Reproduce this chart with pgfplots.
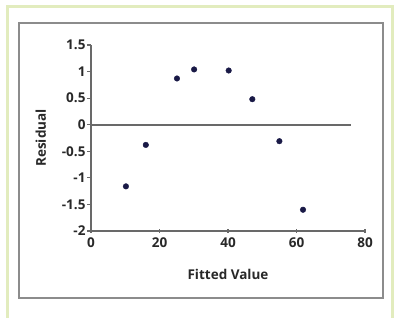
\documentclass[border=0pt]{standalone}
\usepackage{fontspec}
\setmainfont{Open Sans}
\usepackage{pgfplots}
\pgfplotsset{compat=1.18}
\definecolor{greenb}{RGB}{226,236,190}
\definecolor{frameg}{RGB}{140,140,140}
\definecolor{txt}{RGB}{40,40,40}
\definecolor{axg}{RGB}{105,105,105}
\definecolor{dotc}{RGB}{25,25,70}
\begin{document}
\begin{tikzpicture}[x=1pt,y=1pt]
\useasboundingbox (0,0) rectangle (395,318);
\draw[greenb, line width=3pt] (7,0) -- (7,311) -- (392,311) -- (392,0);
\draw[frameg, line width=2pt] (19,20) rectangle (383,295);
\begin{axis}[
  at={(91pt,87pt)}, anchor=south west,
  scale only axis, width=274pt, height=186pt,
  xmin=0, xmax=80, ymin=-2, ymax=1.5,
  axis x line=bottom, axis y line=left,
  axis line style={axg, line width=1.6pt, -},
  xtick={0,20,40,60,80}, ytick={-2,-1.5,-1,-0.5,0,0.5,1,1.5},
  yticklabels={-2,-1.5,-1,-0.5,0,0.5,1,1.5},
  xticklabels={0,20,40,60,80},
  tick style={axg, line width=1.2pt},
  xtick align=center, ytick align=outside,
  major tick length=4pt,
  ticklabel style={font=\fontsize{13.5}{15}\selectfont\bfseries, text=txt},
  yticklabel style={xshift=2pt},
  xticklabel style={yshift=-1pt},
  xlabel={Fitted Value}, ylabel={Residual},
  label style={font=\fontsize{13.5}{15}\selectfont\bfseries, text=txt},
  xlabel style={yshift=-15pt},
  ylabel style={yshift=9pt},
  clip=false,
]
\addplot[axg, line width=1.6pt] coordinates {(0,0) (76,0)};
\addplot[only marks, mark=*, mark size=2.8pt, mark options={fill=dotc, draw=dotc}] coordinates {
(10.2,-1.16) (16.0,-0.38) (25.1,0.87) (30.1,1.04) (40.2,1.02) (47.1,0.48) (55.0,-0.31) (61.9,-1.60)
};
\end{axis}
\end{tikzpicture}
\end{document}
